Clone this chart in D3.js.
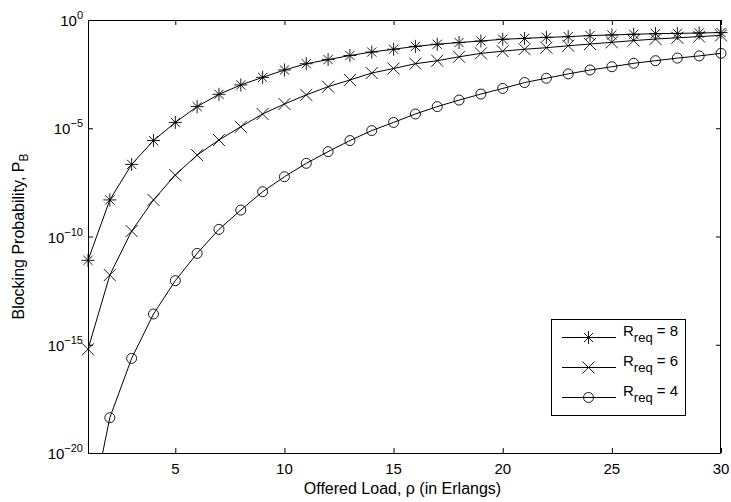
<!DOCTYPE html>
<html>
<head>
<meta charset="utf-8">
<script src="https://cdn.jsdelivr.net/npm/d3@7"></script>
<style>
  html, body { margin: 0; padding: 0; background: #fff; }
  svg { display: block; font-family: "Liberation Sans", Arial, Helvetica, sans-serif; }
</style>
</head>
<body>
<svg id="chart" width="731" height="502"></svg>
<script>
// ---------- DATA ----------
const loads = d3.range(1, 31); // offered load ρ (Erlangs): 1..30

const pbR8 = [7.9e-12, 4.9e-9, 2.14e-7, 2.7e-6, 1.86e-5, 1.0e-4, 3.7e-4, 1.0e-3, 2.24e-3, 4.9e-3,
              9.55e-3, 0.0148, 0.0229, 0.0331, 0.0447, 0.0603, 0.0759, 0.0912, 0.107, 0.129,
              0.141, 0.158, 0.170, 0.191, 0.204, 0.219, 0.234, 0.240, 0.251, 0.263];

const pbR6 = [6.2e-16, 1.66e-12, 1.78e-10, 4.9e-9, 6.9e-8, 5.75e-7, 2.88e-6, 1.17e-5, 4.57e-5, 1.32e-4,
              3.47e-4, 8.3e-4, 1.7e-3, 3.55e-3, 5.75e-3, 9.55e-3, 0.0132, 0.0200, 0.0288, 0.0363,
              0.0447, 0.0525, 0.0646, 0.0776, 0.0933, 0.112, 0.132, 0.151, 0.170, 0.195];

const pbR4 = [5e-24, 4.27e-19, 2.34e-16, 2.63e-14, 9.1e-13, 1.66e-11, 2.14e-10, 1.66e-9, 1.17e-8, 5.75e-8,
              2.4e-7, 8.3e-7, 2.7e-6, 7.8e-6, 1.86e-5, 4.57e-5, 1.0e-4, 2.0e-4, 3.8e-4, 6.9e-4,
              1.29e-3, 2.04e-3, 3.24e-3, 4.9e-3, 6.92e-3, 0.0100, 0.0132, 0.0174, 0.0219, 0.0288];

const seriesNames = ["8", "6", "4"];
const seriesMarkers = ["asterisk", "cross", "circle"];
const seriesValues = [pbR8, pbR6, pbR4];

const xTicks = [5, 10, 15, 20, 25, 30];
const yTickExps = [0, -5, -10, -15, -20];

// ---------- LAYOUT ----------
const svg = d3.select("#chart");
const L = 88, R = 721, T = 20, B = 453;

const x = d3.scaleLinear().domain([1, 30]).range([L, R]);
const y = d3.scaleLog().domain([1e-20, 1]).range([B, T]);

const FONT = "Liberation Sans, Arial, Helvetica, sans-serif";

// clip
svg.append("defs").append("clipPath").attr("id", "plotclip")
  .append("rect").attr("x", L).attr("y", T).attr("width", R - L).attr("height", B - T);

// axes with inward ticks
const xAxisB = d3.axisBottom(x).tickValues(xTicks).tickSizeInner(-5).tickSizeOuter(0).tickFormat("");
const xAxisT = d3.axisTop(x).tickValues(xTicks).tickSizeInner(-5).tickSizeOuter(0).tickFormat("");
const yVals = yTickExps.map(e => Math.pow(10, e));
const yAxisL = d3.axisLeft(y).tickValues(yVals).tickSizeInner(-5).tickSizeOuter(0).tickFormat("");
const yAxisR = d3.axisRight(y).tickValues(yVals).tickSizeInner(-5).tickSizeOuter(0).tickFormat("");

function styleAxis(g) {
  g.selectAll("path.domain").remove();
  g.selectAll(".tick line").attr("stroke", "#000").attr("stroke-width", 1);
}
svg.append("g").attr("transform", `translate(0,${B})`).call(xAxisB).call(styleAxis);
svg.append("g").attr("transform", `translate(0,${T})`).call(xAxisT).call(styleAxis);
svg.append("g").attr("transform", `translate(${L},0)`).call(yAxisL).call(styleAxis);
svg.append("g").attr("transform", `translate(${R},0)`).call(yAxisR).call(styleAxis);

// frame
svg.append("rect").attr("x", L + 0.5).attr("y", T + 0.5).attr("width", R - L - 1).attr("height", B - T)
  .attr("fill", "none").attr("stroke", "#000").attr("stroke-width", 1);

// x tick labels
svg.append("g").selectAll("text").data(xTicks).join("text")
  .attr("x", d => x(d)).attr("y", B + 21)
  .attr("text-anchor", "middle").attr("font-size", 15).attr("font-family", FONT)
  .text(d => d);

// y tick labels with superscripts
const yl = svg.append("g").selectAll("text").data(yTickExps).join("text")
  .attr("x", L - 5).attr("y", d => y(Math.pow(10, d)) + 6)
  .attr("text-anchor", "end").attr("font-family", FONT);
yl.append("tspan").attr("font-size", 15).text("10");
yl.append("tspan").attr("font-size", 11).attr("dy", -7)
  .text(d => d === 0 ? "0" : "\u2212" + Math.abs(d));

// axis titles
svg.append("text").attr("x", (L + R) / 2 - 2).attr("y", 494)
  .attr("text-anchor", "middle").attr("font-size", 16).attr("font-family", FONT)
  .text("Offered Load, \u03C1 (in Erlangs)");

const yt = svg.append("text")
  .attr("transform", `translate(24,${(T + B) / 2}) rotate(-90)`)
  .attr("text-anchor", "middle").attr("font-size", 16).attr("font-family", FONT);
yt.append("tspan").text("Blocking Probability, P");
yt.append("tspan").attr("font-size", 12).attr("dy", 4).text("B");

// ---------- SERIES ----------
const line = d3.line().x((d, i) => x(loads[i])).y(d => y(d));

function markerPath(type) {
  if (type === "asterisk") return "M-6.5,0H6.5M0,-6.5V6.5M-4.6,-4.6L4.6,4.6M-4.6,4.6L4.6,-4.6";
  if (type === "cross") return "M-6,-6L6,6M-6,6L6,-6";
  return null;
}
function drawMarker(g, type) {
  if (type === "circle") {
    g.append("circle").attr("r", 5).attr("fill", "none").attr("stroke", "#000").attr("stroke-width", 0.9);
  } else {
    g.append("path").attr("d", markerPath(type)).attr("fill", "none").attr("stroke", "#000").attr("stroke-width", 0.9);
  }
}

const plot = svg.append("g");
seriesValues.forEach((vals, si) => {
  plot.append("path").datum(vals).attr("d", line)
    .attr("clip-path", "url(#plotclip)")
    .attr("fill", "none").attr("stroke", "#000").attr("stroke-width", 1);
  vals.forEach((v, i) => {
    if (v < 1e-20 || v > 1) return;
    const g = plot.append("g").attr("transform", `translate(${x(loads[i])},${y(v)})`);
    drawMarker(g, seriesMarkers[si]);
  });
});

// ---------- LEGEND ----------
const lg = svg.append("g");
lg.append("rect").attr("x", 551.5).attr("y", 319.5).attr("width", 134).attr("height", 96)
  .attr("fill", "#fff").attr("stroke", "#000").attr("stroke-width", 1);
const rowY = [337.5, 367.5, 397.5];
seriesNames.forEach((n, i) => {
  const ry = rowY[i];
  lg.append("line").attr("x1", 562).attr("x2", 616).attr("y1", ry).attr("y2", ry)
    .attr("stroke", "#000").attr("stroke-width", 1);
  const mg = lg.append("g").attr("transform", `translate(588.5,${ry})`);
  drawMarker(mg, seriesMarkers[i]);
  const t = lg.append("text").attr("x", 623).attr("y", ry - 2).attr("font-family", FONT).attr("font-size", 15);
  t.append("tspan").text("R");
  t.append("tspan").attr("font-size", 13).attr("dy", 6).text("req");
  t.append("tspan").attr("dy", -6).text(" = " + n);
});
</script>
</body>
</html>
